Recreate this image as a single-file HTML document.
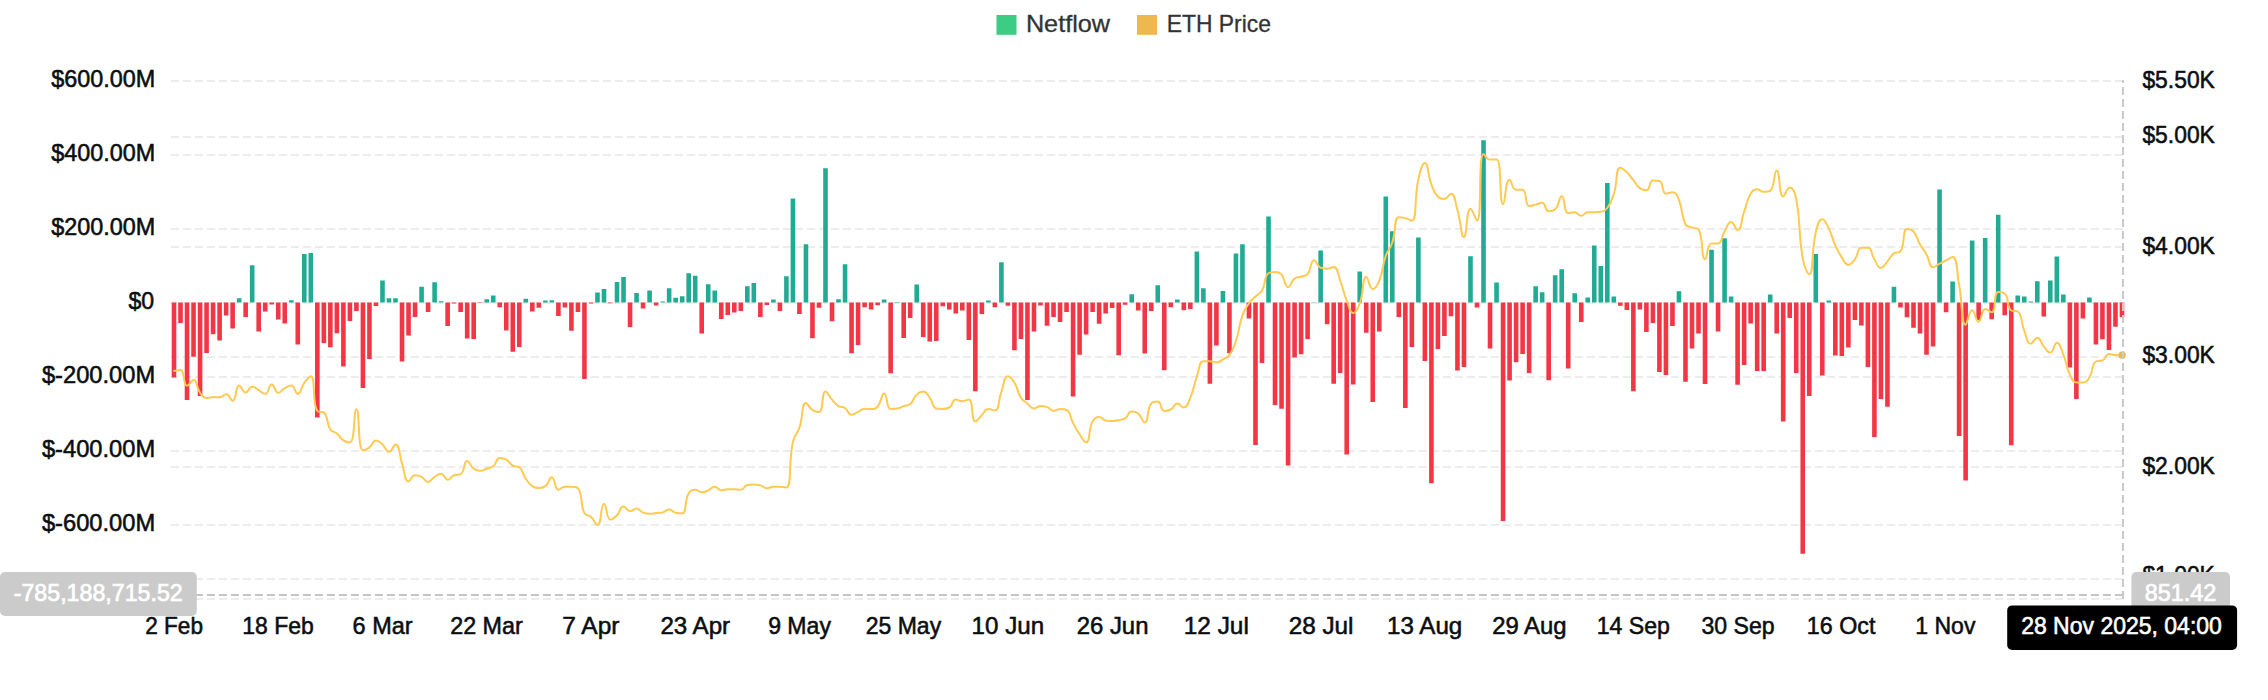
<!DOCTYPE html>
<html lang="en"><head><meta charset="utf-8"><title>Netflow / ETH Price</title>
<style>html,body{margin:0;padding:0;background:#fff}body{width:2268px;height:700px;overflow:hidden}</style></head>
<body>
<svg width="2268" height="700" viewBox="0 0 2268 700" style="display:block;font-family:'Liberation Sans', sans-serif">
<rect width="2268" height="700" fill="#fff"/>
<g stroke="#EDEDED" stroke-width="2" stroke-dasharray="8 4" fill="none">
<path d="M170.9 81H2123.6"/>
<path d="M170.9 155H2123.6"/>
<path d="M170.9 229H2123.6"/>
<path d="M170.9 303H2123.6"/>
<path d="M170.9 377H2123.6"/>
<path d="M170.9 451H2123.6"/>
<path d="M170.9 525H2123.6"/>
<path d="M170.9 599H2123.6"/>
<path d="M170.9 137H2123.6"/>
<path d="M170.9 247H2123.6"/>
<path d="M170.9 357H2123.6"/>
<path d="M170.9 467H2123.6"/>
<path d="M170.9 579H2123.6"/>
</g>
<path fill="#22AB94" d="M236.85 298.2h4.6V302.6h-4.6zM249.88 265.3h4.6V302.6h-4.6zM288.97 300.2h4.6V302.6h-4.6zM302 254.1h4.6V302.6h-4.6zM308.51 253h4.6V302.6h-4.6zM380.18 280.4h4.6V302.6h-4.6zM386.69 298.2h4.6V302.6h-4.6zM393.21 298.2h4.6V302.6h-4.6zM419.27 286.7h4.6V302.6h-4.6zM432.3 282.3h4.6V302.6h-4.6zM438.81 301.2h4.6V302.6h-4.6zM484.42 299.2h4.6V302.6h-4.6zM490.93 295.6h4.6V302.6h-4.6zM523.51 298.8h4.6V302.6h-4.6zM543.06 300.4h4.6V302.6h-4.6zM549.57 300.2h4.6V302.6h-4.6zM595.17 292.5h4.6V302.6h-4.6zM601.69 288.9h4.6V302.6h-4.6zM614.72 282h4.6V302.6h-4.6zM621.24 277h4.6V302.6h-4.6zM634.27 293.1h4.6V302.6h-4.6zM647.3 290.6h4.6V302.6h-4.6zM660.33 301.4h4.6V302.6h-4.6zM666.84 288.3h4.6V302.6h-4.6zM673.36 297.8h4.6V302.6h-4.6zM679.87 296.2h4.6V302.6h-4.6zM686.38 273.2h4.6V302.6h-4.6zM692.9 275.8h4.6V302.6h-4.6zM705.93 284.3h4.6V302.6h-4.6zM712.45 290.6h4.6V302.6h-4.6zM745.02 286.3h4.6V302.6h-4.6zM751.53 283.1h4.6V302.6h-4.6zM771.08 299.4h4.6V302.6h-4.6zM784.11 276.2h4.6V302.6h-4.6zM790.62 198.6h4.6V302.6h-4.6zM803.65 244.2h4.6V302.6h-4.6zM823.2 168.2h4.6V302.6h-4.6zM836.23 299.2h4.6V302.6h-4.6zM842.75 264.3h4.6V302.6h-4.6zM881.84 299.4h4.6V302.6h-4.6zM894.87 302h4.6V302.6h-4.6zM914.41 284.6h4.6V302.6h-4.6zM986.08 300.6h4.6V302.6h-4.6zM999.11 262.3h4.6V302.6h-4.6zM1129.4 294.3h4.6V302.6h-4.6zM1155.46 285.3h4.6V302.6h-4.6zM1175.01 299.4h4.6V302.6h-4.6zM1194.56 251.4h4.6V302.6h-4.6zM1201.07 288.3h4.6V302.6h-4.6zM1220.62 290.9h4.6V302.6h-4.6zM1233.64 253.4h4.6V302.6h-4.6zM1240.16 244.2h4.6V302.6h-4.6zM1266.22 216.4h4.6V302.6h-4.6zM1311.83 302.2h4.6V302.6h-4.6zM1318.34 250.4h4.6V302.6h-4.6zM1357.43 271.4h4.6V302.6h-4.6zM1383.49 196.4h4.6V302.6h-4.6zM1390 231.3h4.6V302.6h-4.6zM1416.07 237.6h4.6V302.6h-4.6zM1468.18 256.3h4.6V302.6h-4.6zM1481.21 140.3h4.6V302.6h-4.6zM1494.24 282.6h4.6V302.6h-4.6zM1533.34 286.3h4.6V302.6h-4.6zM1539.85 292.3h4.6V302.6h-4.6zM1552.88 275.2h4.6V302.6h-4.6zM1559.39 269.2h4.6V302.6h-4.6zM1572.42 293.3h4.6V302.6h-4.6zM1585.45 297.6h4.6V302.6h-4.6zM1591.97 245.6h4.6V302.6h-4.6zM1598.48 266.1h4.6V302.6h-4.6zM1605 183.1h4.6V302.6h-4.6zM1611.51 296.4h4.6V302.6h-4.6zM1676.66 291.3h4.6V302.6h-4.6zM1709.24 249.8h4.6V302.6h-4.6zM1722.27 238.3h4.6V302.6h-4.6zM1728.79 296.4h4.6V302.6h-4.6zM1767.88 294.5h4.6V302.6h-4.6zM1813.48 254.1h4.6V302.6h-4.6zM1826.51 300.6h4.6V302.6h-4.6zM1891.66 286.7h4.6V302.6h-4.6zM1937.26 189.6h4.6V302.6h-4.6zM1950.29 281.6h4.6V302.6h-4.6zM1969.84 240.4h4.6V302.6h-4.6zM1982.87 238.1h4.6V302.6h-4.6zM1995.9 214.8h4.6V302.6h-4.6zM2015.44 295.5h4.6V302.6h-4.6zM2021.96 296.6h4.6V302.6h-4.6zM2028.47 301.4h4.6V302.6h-4.6zM2034.99 281.2h4.6V302.6h-4.6zM2048.02 280.4h4.6V302.6h-4.6zM2054.53 256.6h4.6V302.6h-4.6zM2061.05 294.5h4.6V302.6h-4.6zM2087.11 297.6h4.6V302.6h-4.6z"/>
<path fill="#F23645" d="M171.7 302.6h4.6V377.6h-4.6zM178.21 302.6h4.6V323.1h-4.6zM184.73 302.6h4.6V399.9h-4.6zM191.24 302.6h4.6V356.8h-4.6zM197.76 302.6h4.6V395.9h-4.6zM204.27 302.6h4.6V353h-4.6zM210.79 302.6h4.6V334.2h-4.6zM217.3 302.6h4.6V340.6h-4.6zM223.82 302.6h4.6V315.6h-4.6zM230.33 302.6h4.6V328.6h-4.6zM243.36 302.6h4.6V317.1h-4.6zM256.39 302.6h4.6V331.6h-4.6zM262.91 302.6h4.6V311.6h-4.6zM269.43 302.6h4.6V304.6h-4.6zM275.94 302.6h4.6V319.6h-4.6zM282.45 302.6h4.6V323.6h-4.6zM295.48 302.6h4.6V344.6h-4.6zM315.03 302.6h4.6V417.6h-4.6zM321.55 302.6h4.6V343.1h-4.6zM328.06 302.6h4.6V347.3h-4.6zM334.57 302.6h4.6V333.2h-4.6zM341.09 302.6h4.6V366.6h-4.6zM347.6 302.6h4.6V321.1h-4.6zM354.12 302.6h4.6V311.1h-4.6zM360.63 302.6h4.6V388h-4.6zM367.15 302.6h4.6V359h-4.6zM373.67 302.6h4.6V306.1h-4.6zM399.72 302.6h4.6V361.6h-4.6zM406.24 302.6h4.6V335.4h-4.6zM412.75 302.6h4.6V316.9h-4.6zM425.78 302.6h4.6V311.9h-4.6zM445.33 302.6h4.6V326h-4.6zM451.84 302.6h4.6V303.6h-4.6zM458.36 302.6h4.6V311.9h-4.6zM464.88 302.6h4.6V338.6h-4.6zM471.39 302.6h4.6V339.1h-4.6zM477.9 302.6h4.6V303.1h-4.6zM497.45 302.6h4.6V307.2h-4.6zM503.96 302.6h4.6V330.4h-4.6zM510.48 302.6h4.6V351.8h-4.6zM517 302.6h4.6V346.9h-4.6zM530.03 302.6h4.6V311.6h-4.6zM536.54 302.6h4.6V307.8h-4.6zM556.09 302.6h4.6V316.1h-4.6zM562.6 302.6h4.6V307.4h-4.6zM569.12 302.6h4.6V330.8h-4.6zM575.63 302.6h4.6V311.9h-4.6zM582.14 302.6h4.6V379h-4.6zM588.66 302.6h4.6V303.6h-4.6zM608.21 302.6h4.6V303.3h-4.6zM627.75 302.6h4.6V327h-4.6zM640.78 302.6h4.6V308.6h-4.6zM653.81 302.6h4.6V305.6h-4.6zM699.41 302.6h4.6V333.4h-4.6zM718.96 302.6h4.6V319.1h-4.6zM725.48 302.6h4.6V315.1h-4.6zM731.99 302.6h4.6V312.6h-4.6zM738.5 302.6h4.6V311.1h-4.6zM758.05 302.6h4.6V316.9h-4.6zM764.57 302.6h4.6V305h-4.6zM777.6 302.6h4.6V310.9h-4.6zM797.14 302.6h4.6V314.1h-4.6zM810.17 302.6h4.6V338.3h-4.6zM816.69 302.6h4.6V307.8h-4.6zM829.72 302.6h4.6V321.3h-4.6zM849.26 302.6h4.6V353.2h-4.6zM855.77 302.6h4.6V345.1h-4.6zM862.29 302.6h4.6V307.2h-4.6zM868.81 302.6h4.6V309.6h-4.6zM875.32 302.6h4.6V305.2h-4.6zM888.35 302.6h4.6V373.3h-4.6zM901.38 302.6h4.6V337.9h-4.6zM907.89 302.6h4.6V318.1h-4.6zM920.92 302.6h4.6V337.1h-4.6zM927.44 302.6h4.6V341.6h-4.6zM933.96 302.6h4.6V341.1h-4.6zM940.47 302.6h4.6V306.2h-4.6zM946.99 302.6h4.6V309.4h-4.6zM953.5 302.6h4.6V313.6h-4.6zM960.01 302.6h4.6V310.6h-4.6zM966.53 302.6h4.6V340.1h-4.6zM973.04 302.6h4.6V391.2h-4.6zM979.56 302.6h4.6V313.9h-4.6zM992.59 302.6h4.6V307.2h-4.6zM1005.62 302.6h4.6V305.8h-4.6zM1012.13 302.6h4.6V350.3h-4.6zM1018.65 302.6h4.6V339.1h-4.6zM1025.16 302.6h4.6V399.9h-4.6zM1031.68 302.6h4.6V331.6h-4.6zM1038.19 302.6h4.6V305.6h-4.6zM1044.71 302.6h4.6V325.8h-4.6zM1051.23 302.6h4.6V316.9h-4.6zM1057.74 302.6h4.6V322.1h-4.6zM1064.25 302.6h4.6V312.1h-4.6zM1070.77 302.6h4.6V396.6h-4.6zM1077.29 302.6h4.6V354.8h-4.6zM1083.8 302.6h4.6V334.6h-4.6zM1090.32 302.6h4.6V312.1h-4.6zM1096.83 302.6h4.6V323.8h-4.6zM1103.35 302.6h4.6V313.6h-4.6zM1109.86 302.6h4.6V308h-4.6zM1116.38 302.6h4.6V355.2h-4.6zM1122.89 302.6h4.6V304.8h-4.6zM1135.92 302.6h4.6V310.6h-4.6zM1142.43 302.6h4.6V353.6h-4.6zM1148.95 302.6h4.6V311.1h-4.6zM1161.98 302.6h4.6V370.3h-4.6zM1168.5 302.6h4.6V307.2h-4.6zM1181.52 302.6h4.6V310.3h-4.6zM1188.04 302.6h4.6V309h-4.6zM1207.59 302.6h4.6V383.8h-4.6zM1214.1 302.6h4.6V345.6h-4.6zM1227.13 302.6h4.6V353.2h-4.6zM1246.67 302.6h4.6V318.6h-4.6zM1253.19 302.6h4.6V445h-4.6zM1259.7 302.6h4.6V363h-4.6zM1272.73 302.6h4.6V405.1h-4.6zM1279.25 302.6h4.6V408.8h-4.6zM1285.77 302.6h4.6V465.6h-4.6zM1292.28 302.6h4.6V357.4h-4.6zM1298.8 302.6h4.6V354.2h-4.6zM1305.31 302.6h4.6V338.9h-4.6zM1324.86 302.6h4.6V324.2h-4.6zM1331.37 302.6h4.6V383.8h-4.6zM1337.88 302.6h4.6V373.1h-4.6zM1344.4 302.6h4.6V454.4h-4.6zM1350.91 302.6h4.6V384.6h-4.6zM1363.94 302.6h4.6V332.8h-4.6zM1370.46 302.6h4.6V402.1h-4.6zM1376.97 302.6h4.6V331.4h-4.6zM1396.52 302.6h4.6V317.1h-4.6zM1403.04 302.6h4.6V408h-4.6zM1409.55 302.6h4.6V346.9h-4.6zM1422.58 302.6h4.6V361h-4.6zM1429.1 302.6h4.6V483.2h-4.6zM1435.61 302.6h4.6V349.1h-4.6zM1442.12 302.6h4.6V336h-4.6zM1448.64 302.6h4.6V316.3h-4.6zM1455.15 302.6h4.6V370.6h-4.6zM1461.67 302.6h4.6V367.1h-4.6zM1474.7 302.6h4.6V307.6h-4.6zM1487.73 302.6h4.6V348.6h-4.6zM1500.76 302.6h4.6V521.1h-4.6zM1507.28 302.6h4.6V380.4h-4.6zM1513.79 302.6h4.6V362.2h-4.6zM1520.31 302.6h4.6V354h-4.6zM1526.82 302.6h4.6V372.9h-4.6zM1546.37 302.6h4.6V380.2h-4.6zM1565.91 302.6h4.6V368.6h-4.6zM1578.94 302.6h4.6V321.9h-4.6zM1618.03 302.6h4.6V305.8h-4.6zM1624.55 302.6h4.6V310.1h-4.6zM1631.06 302.6h4.6V391.2h-4.6zM1637.58 302.6h4.6V309.6h-4.6zM1644.09 302.6h4.6V332h-4.6zM1650.61 302.6h4.6V322.9h-4.6zM1657.12 302.6h4.6V372.1h-4.6zM1663.63 302.6h4.6V374.9h-4.6zM1670.15 302.6h4.6V326h-4.6zM1683.18 302.6h4.6V381.8h-4.6zM1689.69 302.6h4.6V348.6h-4.6zM1696.21 302.6h4.6V333.4h-4.6zM1702.72 302.6h4.6V384h-4.6zM1715.75 302.6h4.6V331.6h-4.6zM1735.3 302.6h4.6V384.8h-4.6zM1741.82 302.6h4.6V364.9h-4.6zM1748.33 302.6h4.6V323.6h-4.6zM1754.85 302.6h4.6V370.9h-4.6zM1761.36 302.6h4.6V370.9h-4.6zM1774.39 302.6h4.6V333.6h-4.6zM1780.9 302.6h4.6V421.6h-4.6zM1787.42 302.6h4.6V318.1h-4.6zM1793.93 302.6h4.6V372.9h-4.6zM1800.45 302.6h4.6V553.8h-4.6zM1806.96 302.6h4.6V395.9h-4.6zM1819.99 302.6h4.6V375.6h-4.6zM1833.02 302.6h4.6V355.4h-4.6zM1839.54 302.6h4.6V356h-4.6zM1846.06 302.6h4.6V347.5h-4.6zM1852.57 302.6h4.6V320.1h-4.6zM1859.09 302.6h4.6V325.4h-4.6zM1865.6 302.6h4.6V366.9h-4.6zM1872.12 302.6h4.6V436.9h-4.6zM1878.63 302.6h4.6V398.9h-4.6zM1885.14 302.6h4.6V406.8h-4.6zM1898.17 302.6h4.6V307.4h-4.6zM1904.69 302.6h4.6V317.3h-4.6zM1911.2 302.6h4.6V327.8h-4.6zM1917.72 302.6h4.6V333.6h-4.6zM1924.23 302.6h4.6V354.8h-4.6zM1930.75 302.6h4.6V346.6h-4.6zM1943.78 302.6h4.6V312.3h-4.6zM1956.81 302.6h4.6V436h-4.6zM1963.33 302.6h4.6V480.4h-4.6zM1976.36 302.6h4.6V320.1h-4.6zM1989.38 302.6h4.6V319.3h-4.6zM2002.41 302.6h4.6V315.3h-4.6zM2008.93 302.6h4.6V445.2h-4.6zM2041.5 302.6h4.6V316.6h-4.6zM2067.56 302.6h4.6V367.6h-4.6zM2074.08 302.6h4.6V399.1h-4.6zM2080.59 302.6h4.6V318.6h-4.6zM2093.62 302.6h4.6V344.6h-4.6zM2100.14 302.6h4.6V339.3h-4.6zM2106.65 302.6h4.6V349.9h-4.6zM2113.17 302.6h4.6V326.8h-4.6zM2119.68 302.6h4.6V317.3h-4.6z"/>
<path fill="none" stroke="#FECA52" stroke-width="2" stroke-linejoin="round" stroke-linecap="round" d="M174 370.9C174 370.9 178.71 369.9 180.51 369.9C185.22 369.9 182.72 385.8 187.03 385.8C189.23 385.8 191.08 379.9 193.54 379.9C197.6 379.9 195.94 387.04 200.06 392.8C202.45 396.14 202.92 398.1 206.57 398.1C209.44 398.1 209.81 397.1 213.09 397.1C216.33 397.1 216.51 397.3 219.6 397.3C223.03 397.3 223.26 394.2 226.12 394.2C229.77 394.2 230.31 400.7 232.63 400.7C236.83 400.7 235.01 385.4 239.15 385.4C241.53 385.4 242.23 392.4 245.66 392.4C248.75 392.4 248.67 386.8 252.18 386.8C255.18 386.8 255.46 388.46 258.69 390.2C261.97 391.96 262.62 393.8 265.21 393.8C269.13 393.8 268.35 384.6 271.73 384.6C274.86 384.6 274.54 392.8 278.24 392.8C281.06 392.8 281.31 390.16 284.75 388.2C287.82 386.46 288.66 385.4 291.27 385.4C295.18 385.4 294.83 393.8 297.78 393.8C301.34 393.8 300.51 387.89 304.3 382.8C307.03 379.14 309.47 376.3 310.81 376.3C315.99 376.3 311.84 403.74 317.33 411.2C318.36 412.6 322.09 411.2 323.85 412.6C328.61 416.41 325.78 422.15 330.36 429.5C332.29 432.6 333.97 431.07 336.88 433.5C340.48 436.52 339.6 437.81 343.39 440.4C346.11 442.26 348.81 442.4 349.9 442.4C355.33 442.4 353.5 409.2 356.42 409.2C360.01 409.2 357.37 450.3 362.94 450.3C363.89 450.3 366.67 449.51 369.45 447.4C373.18 444.56 372.34 440.4 375.97 440.4C378.86 440.4 379.62 441.92 382.48 444.4C386.14 447.57 385.74 451.7 389 451.7C392.25 451.7 393.37 444.4 395.51 444.4C399.88 444.4 398.71 453.87 402.02 463.3C405.23 472.42 404.1 481.5 408.54 481.5C410.62 481.5 411.31 475.2 415.05 475.2C417.83 475.2 418.65 475.3 421.57 476.8C425.17 478.65 424.83 481.9 428.08 481.9C431.34 481.9 431.11 478.97 434.6 476.8C437.63 474.92 438.19 473.8 441.12 473.8C444.7 473.8 444.2 479.7 447.63 479.7C450.72 479.7 450.59 476.4 454.14 475.2C457.1 474.2 458.65 475.2 460.66 474.2C465.17 471.95 463.32 460.9 467.18 460.9C469.84 460.9 469.78 465.83 473.69 468.8C476.29 470.78 476.95 470.8 480.2 470.8C483.46 470.8 483.51 469.93 486.72 468.8C490.02 467.63 490.63 468.38 493.23 466.2C497.15 462.93 495.78 457.9 499.75 457.9C502.29 457.9 503.43 458.03 506.26 459.7C509.95 461.88 509.09 463.5 512.78 465.6C515.6 467.2 517.1 465.6 519.29 467.2C523.62 470.35 522.08 473.29 525.81 478.7C528.59 482.74 528.47 483.32 532.33 486.1C534.99 488.02 535.58 488.1 538.84 488.1C542.1 488.1 542.87 488.1 545.36 486.1C549.38 482.86 549.01 477.2 551.87 477.2C555.53 477.2 554.06 489.7 558.38 489.7C560.57 489.7 561.5 486.8 564.9 486.8C568.01 486.8 568.2 486.8 571.41 486.8C574.71 486.8 576.59 486.8 577.93 488.3C583.1 494.07 579.39 502.15 584.44 513.2C585.91 516.4 588.27 514.34 590.96 516.8C594.78 520.29 595.39 525.1 597.47 525.1C601.9 525.1 600.31 503.7 603.99 503.7C606.83 503.7 606.04 519.7 610.5 519.7C612.55 519.7 614.26 517.97 617.02 515.2C620.78 511.42 619.79 506.6 623.53 506.6C626.3 506.6 626.58 511.2 630.05 511.2C633.1 511.2 633.45 508.6 636.57 508.6C639.96 508.6 639.59 511.22 643.08 512.6C646.1 513.8 646.32 513.8 649.6 513.8C652.84 513.8 652.85 513.35 656.11 513C659.36 512.65 659.5 513 662.62 512.4C666.01 511.75 665.92 509.6 669.14 509.6C672.44 509.6 672.23 512.13 675.65 512.8C678.74 513.4 680.63 513.4 682.17 513.4C687.14 513.4 683.86 502.04 688.68 493.3C690.37 490.24 691.85 489.8 695.2 489.8C698.36 489.8 698.42 492.3 701.71 492.3C704.93 492.3 705.11 491.62 708.23 490.3C711.62 488.87 711.48 486.8 714.75 486.8C717.99 486.8 717.83 490.2 721.26 490.2C724.34 490.2 724.5 489.2 727.77 489.2C731.01 489.2 731.04 489.2 734.29 489.2C737.55 489.2 737.89 489.8 740.8 489.8C744.41 489.8 743.72 485.74 747.32 485C750.23 484.4 750.59 484.4 753.83 484.4C757.1 484.4 757.21 484.48 760.35 485.4C763.73 486.38 763.51 488.2 766.87 488.2C770.02 488.2 770.09 486.8 773.38 486.8C776.6 486.8 776.64 486.8 779.89 486.8C783.16 486.8 785.6 487.4 786.41 487.4C792.11 487.4 788.08 464.24 792.92 442C794.59 434.34 796.94 435.07 799.44 427.6C803.46 415.57 801.22 403 805.95 403C807.73 403 808.67 407.37 812.47 410C815.18 411.87 817.41 412 818.99 412C823.93 412 821.1 391.6 825.5 391.6C827.62 391.6 828.57 395.77 832.01 399.6C835.09 403.02 834.79 403.66 838.53 406.1C841.3 407.91 842.29 406.28 845.04 408.1C848.8 410.58 847.87 414.7 851.56 414.7C854.38 414.7 854.86 413.38 858.07 411.9C861.37 410.38 861.16 408.7 864.59 408.7C867.67 408.7 867.96 409.1 871.11 409.1C874.48 409.1 875.49 409.03 877.62 406.5C882.01 401.28 881.11 393.6 884.13 393.6C887.62 393.6 885.97 408.9 890.65 408.9C892.49 408.9 894.01 408.9 897.16 408.5C900.52 408.07 900.39 407.21 903.68 406.1C906.91 405.01 907.77 406.1 910.19 404.1C914.29 400.72 912.69 398.45 916.71 394.6C919.21 392.2 920.31 391.6 923.22 391.6C926.82 391.6 927.06 394.13 929.74 397.6C933.58 402.58 931.95 407.72 936.25 408.5C938.47 408.9 939.55 408.9 942.77 408.9C946.06 408.9 946.72 408.9 949.28 407.5C953.23 405.35 951.86 399.6 955.8 399.6C958.38 399.6 959.06 401.2 962.31 401.2C965.57 401.2 967.35 399.6 968.83 399.6C973.86 399.6 970.69 421.4 975.34 421.4C977.2 421.4 978.59 418.24 981.86 415.1C985.11 411.99 984.64 408.9 988.38 408.9C991.16 408.9 993.25 410.5 994.89 410.5C999.77 410.5 997.85 400.93 1001.4 391.6C1004.36 383.83 1003.71 376.3 1007.92 376.3C1010.23 376.3 1012.09 378.87 1014.43 382.7C1018.61 389.52 1016.72 390.85 1020.95 397.6C1023.24 401.25 1024.1 400.68 1027.46 403.5C1030.61 406.13 1030.45 408.5 1033.98 408.5C1036.96 408.5 1037.15 406.1 1040.49 406.1C1043.66 406.1 1044 406.1 1047.01 406.9C1050.52 407.83 1050.08 410.9 1053.53 410.9C1056.6 410.9 1056.73 408.9 1060.04 408.9C1063.24 408.9 1064.53 408.9 1066.55 409.9C1071.05 412.12 1069.63 416.55 1073.07 423C1076.14 428.75 1075.95 428.91 1079.59 434.3C1082.46 438.56 1084.01 442.3 1086.1 442.3C1090.53 442.3 1087.82 430.71 1092.62 421.4C1094.34 418.06 1095.76 417 1099.13 417C1102.28 417 1102.2 419.73 1105.64 420.4C1108.71 421 1108.91 421 1112.16 421C1115.42 421 1115.47 420.84 1118.67 420.2C1121.98 419.54 1122.48 420.2 1125.19 418.4C1128.99 415.87 1127.91 411.5 1131.7 411.5C1134.43 411.5 1135.73 411.5 1138.22 413.5C1142.25 416.74 1142.42 422.4 1144.73 422.4C1148.93 422.4 1146.39 409.1 1151.25 403.5C1152.9 401.6 1155.33 401.6 1157.76 401.6C1161.84 401.6 1160.17 410.9 1164.28 410.9C1166.69 410.9 1168 410.9 1170.8 409.5C1174.51 407.64 1173.81 403.5 1177.31 403.5C1180.33 403.5 1181.27 407.5 1183.82 407.5C1187.79 407.5 1188.05 403.01 1190.34 397.6C1194.57 387.61 1193.17 386.99 1196.86 376.7C1199.69 368.79 1198.67 361.2 1203.37 361.2C1205.19 361.2 1206.65 361.2 1209.88 361.2C1213.17 361.2 1213.28 362.4 1216.4 362.4C1219.8 362.4 1219.81 361.11 1222.91 359.3C1226.32 357.31 1227.2 357.93 1229.43 354.8C1233.72 348.78 1233.56 348.21 1235.94 341C1240.07 328.51 1238.16 327.79 1242.46 315.4C1244.67 309.04 1245.15 309.04 1248.97 303.5C1251.67 299.59 1252.1 299.86 1255.49 296.5C1258.61 293.41 1259.91 294.34 1262 290.6C1266.42 282.74 1263.72 276.65 1268.52 273.3C1270.24 272.1 1271.87 272.1 1275.03 272.1C1278.39 272.1 1279.39 272.19 1281.55 274.7C1285.9 279.74 1284.37 287.2 1288.07 287.2C1290.89 287.2 1290.58 281.62 1294.58 278.6C1297.1 276.7 1297.89 277.81 1301.1 276.7C1304.41 275.56 1305.57 276.69 1307.61 274.1C1312.08 268.44 1310.17 260.2 1314.12 260.2C1316.68 260.2 1316.72 266.19 1320.64 267.7C1323.24 268.7 1323.93 268.7 1327.15 268.7C1330.44 268.7 1331.66 267.1 1333.67 267.1C1338.17 267.1 1337.47 273.63 1340.18 280.6C1343.98 290.33 1342.81 290.82 1346.7 300.5C1349.32 307.02 1349.63 313 1353.21 313C1356.14 313 1357.79 308.84 1359.73 303.5C1364.31 290.89 1361.9 277.1 1366.24 277.1C1368.41 277.1 1369.11 289 1372.76 289C1375.62 289 1377.37 285.47 1379.27 280.6C1383.88 268.87 1381.66 267.88 1385.79 255.8C1388.18 248.83 1389.95 249.48 1392.3 242.5C1396.46 230.18 1393.62 217.2 1398.82 217.2C1400.13 217.2 1402.18 217.25 1405.34 218.1C1408.7 219 1410.91 220.7 1411.85 220.7C1417.43 220.7 1413.78 199.68 1418.37 179.4C1420.29 170.88 1422.01 163.1 1424.88 163.1C1428.52 163.1 1427.39 174.06 1431.39 184.4C1433.9 190.86 1433.55 192.25 1437.91 196.7C1440.06 198.9 1441.48 198.9 1444.42 198.9C1448 198.9 1448.86 193.7 1450.94 193.7C1455.37 193.7 1454.9 201.73 1457.45 210.2C1461.42 223.38 1460.79 237 1463.97 237C1467.31 237 1466.05 208.8 1470.48 208.8C1472.56 208.8 1475.9 220.7 1477 220.7C1482.42 220.7 1477.74 154 1483.51 154C1484.26 154 1486.32 159.6 1490.03 159.6C1492.84 159.6 1495.72 159.6 1496.54 159.6C1502.24 159.6 1498.88 204.2 1503.06 204.2C1505.4 204.2 1505.15 179.8 1509.58 179.8C1511.67 179.8 1511.88 189.8 1516.09 189.8C1518.39 189.8 1520.83 189.8 1522.61 189.8C1527.35 189.8 1524.4 206 1529.12 206C1530.92 206 1532.41 205.42 1535.63 204.6C1538.92 203.77 1539.62 202.7 1542.15 202.7C1546.14 202.7 1544.68 211.2 1548.66 211.2C1551.2 211.2 1553.09 211.2 1555.18 209.2C1559.61 204.96 1558.8 196.3 1561.69 196.3C1565.32 196.3 1563.43 213.2 1568.21 213.2C1569.95 213.2 1571.67 212.2 1574.72 212.2C1578.18 212.2 1577.98 215.8 1581.24 215.8C1584.5 215.8 1584.28 212.2 1587.75 212.2C1590.8 212.2 1591.02 212.2 1594.27 212.2C1597.53 212.2 1597.76 212.2 1600.78 211.8C1604.28 211.34 1605.16 210.92 1607.3 208C1611.68 202.02 1611.45 201.31 1613.81 194C1617.96 181.16 1615.3 167.7 1620.33 167.7C1621.81 167.7 1623.99 169.56 1626.85 172.3C1630.51 175.81 1630.1 176.25 1633.36 180.2C1636.62 184.15 1635.98 185.08 1639.88 188.1C1642.49 190.13 1643.98 190.3 1646.39 190.3C1650.49 190.3 1648.72 180.6 1652.9 180.6C1655.24 180.6 1657.38 180.6 1659.42 181C1663.89 181.87 1661.49 193.7 1665.93 193.7C1668.01 193.7 1669.86 192.3 1672.45 192.3C1676.37 192.3 1677.1 195.42 1678.96 200C1683.62 211.42 1680.43 213.6 1685.48 224.3C1686.95 227.4 1688.62 226.25 1691.99 227.6C1695.13 228.85 1697.32 227.6 1698.51 229.5C1703.84 238.04 1700.86 259.3 1705.02 259.3C1707.37 259.3 1706.82 243.4 1711.54 243.4C1713.33 243.4 1715.94 243.4 1718.05 243.4C1722.46 243.4 1721.05 237.29 1724.57 231.5C1727.56 226.59 1727.66 222 1731.09 222C1734.18 222 1735.34 230.1 1737.6 230.1C1741.85 230.1 1740.82 220.89 1744.12 211.7C1747.33 202.74 1746.04 201.73 1750.63 193.8C1752.55 190.48 1753.68 189.2 1757.14 189.2C1760.19 189.2 1760.3 191.8 1763.66 191.8C1766.82 191.8 1768.63 191.8 1770.17 190.8C1775.15 187.58 1773.8 170.6 1776.69 170.6C1780.31 170.6 1778.6 196.4 1783.2 196.4C1785.11 196.4 1786.74 187.5 1789.72 187.5C1793.25 187.5 1795.07 192.47 1796.23 198.8C1801.58 227.87 1797.69 229.01 1802.75 258.3C1804.2 266.71 1807.38 274.2 1809.26 274.2C1813.9 274.2 1810.96 252.86 1815.78 232.5C1817.47 225.36 1818.62 219.2 1822.29 219.2C1825.13 219.2 1826.28 223.51 1828.81 228.6C1832.8 236.61 1831.62 237.21 1835.32 245.4C1838.13 251.61 1838.07 251.76 1841.84 257.4C1844.58 261.51 1844.86 264.9 1848.36 264.9C1851.38 264.9 1852.3 262.67 1854.87 259.3C1858.82 254.12 1857.02 247.8 1861.38 247.8C1863.54 247.8 1865.75 247.8 1867.9 247.8C1872.26 247.8 1870.83 253.77 1874.41 259.3C1877.34 263.82 1877.43 267.9 1880.93 267.9C1883.94 267.9 1884.35 264.75 1887.44 261.3C1890.86 257.5 1890.05 256.37 1893.96 253.4C1896.56 251.42 1899 253.4 1900.47 251.4C1905.52 244.55 1901.98 229 1906.99 229C1908.49 229 1911.38 229 1913.5 231.5C1917.9 236.68 1916.45 238.13 1920.02 244.4C1922.97 249.58 1923.59 249.22 1926.53 254.4C1930.1 260.67 1928.75 267.3 1933.05 267.3C1935.26 267.3 1936.29 265.46 1939.56 263.7C1942.8 261.96 1942.81 261.98 1946.08 260.3C1949.33 258.63 1951.28 257 1952.59 257C1957.79 257 1956.4 270.89 1959.11 285C1962.91 304.79 1960.95 324.8 1965.62 324.8C1967.47 324.8 1968.58 310.3 1972.14 310.3C1975.1 310.3 1975.54 321.8 1978.65 321.8C1982.06 321.8 1980.85 308.9 1985.17 308.9C1987.37 308.9 1990.01 312.3 1991.68 312.3C1996.52 312.3 1993.24 292.1 1998.2 292.1C1999.76 292.1 2002.97 292.1 2004.71 293.5C2009.48 297.32 2006.45 307.74 2011.23 310.5C2012.96 311.5 2016.15 310.5 2017.74 311.5C2022.67 314.59 2020.45 321.38 2024.26 330.8C2026.96 337.48 2026.74 343.7 2030.77 343.7C2033.25 343.7 2034.39 337.7 2037.29 337.7C2040.9 337.7 2040.19 342.47 2043.8 346.6C2046.71 349.92 2047.53 352.6 2050.32 352.6C2054.05 352.6 2053.8 342.7 2056.84 342.7C2060.31 342.7 2060.78 348.35 2063.35 354.6C2067.3 364.2 2065.51 365.1 2069.86 374.4C2072.02 379 2072.39 382.4 2076.38 382.4C2078.9 382.4 2080.01 382.4 2082.89 382.4C2086.53 382.4 2087.3 380.78 2089.41 377.4C2093.82 370.33 2091.22 364.11 2095.93 361.5C2097.73 360.5 2099.72 361.5 2102.44 360.5C2106.24 359.1 2105.16 354 2108.95 354C2111.67 354 2112.19 354.8 2115.47 355C2118.71 355.2 2121.98 355.2 2121.98 355.2"/>
<path d="M170.9 595H2123.0" stroke="#C4C4C4" stroke-width="2" stroke-dasharray="8 4" fill="none"/>
<circle cx="2122.1" cy="355.2" r="3.6" fill="#E8B84B"/>
<path d="M2123.0 599V80" stroke="#CACACA" stroke-width="2" stroke-dasharray="8 4" fill="none"/>
<rect x="996.5" y="15" width="20" height="19.8" fill="#3DCC83"/>
<rect x="1137" y="15" width="20" height="19.8" fill="#EDB84F"/>
<text x="1025.9" y="32.3" font-size="24" fill="#333" stroke="#333" stroke-width="0.3" textLength="84.14" lengthAdjust="spacingAndGlyphs">Netflow</text>
<text x="1166.69" y="32.3" font-size="24" fill="#333" stroke="#333" stroke-width="0.3" textLength="104.25" lengthAdjust="spacingAndGlyphs">ETH Price</text>
<text x="51.2" y="87.4" font-size="24" fill="#0B0E11" stroke="#0B0E11" stroke-width="0.55" textLength="104.01" lengthAdjust="spacingAndGlyphs">$600.00M</text>
<text x="51.2" y="161.4" font-size="24" fill="#0B0E11" stroke="#0B0E11" stroke-width="0.55" textLength="104.01" lengthAdjust="spacingAndGlyphs">$400.00M</text>
<text x="51.2" y="235.4" font-size="24" fill="#0B0E11" stroke="#0B0E11" stroke-width="0.55" textLength="104.01" lengthAdjust="spacingAndGlyphs">$200.00M</text>
<text x="128.5" y="309.4" font-size="24" fill="#0B0E11" stroke="#0B0E11" stroke-width="0.55" textLength="25.68" lengthAdjust="spacingAndGlyphs">$0</text>
<text x="41.9" y="383.4" font-size="24" fill="#0B0E11" stroke="#0B0E11" stroke-width="0.55" textLength="113.33" lengthAdjust="spacingAndGlyphs">$-200.00M</text>
<text x="41.9" y="457.4" font-size="24" fill="#0B0E11" stroke="#0B0E11" stroke-width="0.55" textLength="113.33" lengthAdjust="spacingAndGlyphs">$-400.00M</text>
<text x="41.9" y="531.4" font-size="24" fill="#0B0E11" stroke="#0B0E11" stroke-width="0.55" textLength="113.33" lengthAdjust="spacingAndGlyphs">$-600.00M</text>
<text x="2142.4" y="87.5" font-size="24" fill="#0B0E11" stroke="#0B0E11" stroke-width="0.55" textLength="72.47" lengthAdjust="spacingAndGlyphs">$5.50K</text>
<text x="2142.4" y="142.9" font-size="24" fill="#0B0E11" stroke="#0B0E11" stroke-width="0.55" textLength="72.47" lengthAdjust="spacingAndGlyphs">$5.00K</text>
<text x="2142.4" y="253.6" font-size="24" fill="#0B0E11" stroke="#0B0E11" stroke-width="0.55" textLength="72.47" lengthAdjust="spacingAndGlyphs">$4.00K</text>
<text x="2142.4" y="362.8" font-size="24" fill="#0B0E11" stroke="#0B0E11" stroke-width="0.55" textLength="72.47" lengthAdjust="spacingAndGlyphs">$3.00K</text>
<text x="2142.4" y="473.5" font-size="24" fill="#0B0E11" stroke="#0B0E11" stroke-width="0.55" textLength="72.47" lengthAdjust="spacingAndGlyphs">$2.00K</text>
<text x="2142.4" y="583" font-size="24" fill="#0B0E11" stroke="#0B0E11" stroke-width="0.55" textLength="72.47" lengthAdjust="spacingAndGlyphs">$1.00K</text>
<text x="145.26" y="634" font-size="24" fill="#0B0E11" stroke="#0B0E11" stroke-width="0.55" textLength="57.69" lengthAdjust="spacingAndGlyphs">2 Feb</text>
<text x="242.22" y="634" font-size="24" fill="#0B0E11" stroke="#0B0E11" stroke-width="0.55" textLength="71.61" lengthAdjust="spacingAndGlyphs">18 Feb</text>
<text x="352.55" y="634" font-size="24" fill="#0B0E11" stroke="#0B0E11" stroke-width="0.55" textLength="60.03" lengthAdjust="spacingAndGlyphs">6 Mar</text>
<text x="450.15" y="634" font-size="24" fill="#0B0E11" stroke="#0B0E11" stroke-width="0.55" textLength="72.68" lengthAdjust="spacingAndGlyphs">22 Mar</text>
<text x="562.34" y="634" font-size="24" fill="#0B0E11" stroke="#0B0E11" stroke-width="0.55" textLength="57.07" lengthAdjust="spacingAndGlyphs">7 Apr</text>
<text x="660.45" y="634" font-size="24" fill="#0B0E11" stroke="#0B0E11" stroke-width="0.55" textLength="69.7" lengthAdjust="spacingAndGlyphs">23 Apr</text>
<text x="768.13" y="634" font-size="24" fill="#0B0E11" stroke="#0B0E11" stroke-width="0.55" textLength="62.81" lengthAdjust="spacingAndGlyphs">9 May</text>
<text x="865.77" y="634" font-size="24" fill="#0B0E11" stroke="#0B0E11" stroke-width="0.55" textLength="75.37" lengthAdjust="spacingAndGlyphs">25 May</text>
<text x="971.61" y="634" font-size="24" fill="#0B0E11" stroke="#0B0E11" stroke-width="0.55" textLength="72.48" lengthAdjust="spacingAndGlyphs">10 Jun</text>
<text x="1076.71" y="634" font-size="24" fill="#0B0E11" stroke="#0B0E11" stroke-width="0.55" textLength="71.75" lengthAdjust="spacingAndGlyphs">26 Jun</text>
<text x="1183.77" y="634" font-size="24" fill="#0B0E11" stroke="#0B0E11" stroke-width="0.55" textLength="65.1" lengthAdjust="spacingAndGlyphs">12 Jul</text>
<text x="1288.63" y="634" font-size="24" fill="#0B0E11" stroke="#0B0E11" stroke-width="0.55" textLength="64.87" lengthAdjust="spacingAndGlyphs">28 Jul</text>
<text x="1387.07" y="634" font-size="24" fill="#0B0E11" stroke="#0B0E11" stroke-width="0.55" textLength="75.17" lengthAdjust="spacingAndGlyphs">13 Aug</text>
<text x="1492.17" y="634" font-size="24" fill="#0B0E11" stroke="#0B0E11" stroke-width="0.55" textLength="74.44" lengthAdjust="spacingAndGlyphs">29 Aug</text>
<text x="1596.74" y="634" font-size="24" fill="#0B0E11" stroke="#0B0E11" stroke-width="0.55" textLength="73.16" lengthAdjust="spacingAndGlyphs">14 Sep</text>
<text x="1701.49" y="634" font-size="24" fill="#0B0E11" stroke="#0B0E11" stroke-width="0.55" textLength="73.1" lengthAdjust="spacingAndGlyphs">30 Sep</text>
<text x="1806.85" y="634" font-size="24" fill="#0B0E11" stroke="#0B0E11" stroke-width="0.55" textLength="68.55" lengthAdjust="spacingAndGlyphs">16 Oct</text>
<text x="1915.31" y="634" font-size="24" fill="#0B0E11" stroke="#0B0E11" stroke-width="0.55" textLength="60.13" lengthAdjust="spacingAndGlyphs">1 Nov</text>
<rect x="0" y="572" width="196.8" height="43.9" rx="5" fill="#CBCBCB"/>
<text x="13.73" y="601.1" font-size="24" fill="#fff" stroke="#fff" stroke-width="0.7" textLength="169.07" lengthAdjust="spacingAndGlyphs">-785,188,715.52</text>
<rect x="2131.4" y="572.1" width="98.6" height="44" rx="5" fill="#CBCBCB"/>
<text x="2144.72" y="600.8" font-size="24" fill="#fff" stroke="#fff" stroke-width="0.7" textLength="71.65" lengthAdjust="spacingAndGlyphs">851.42</text>
<rect x="2007.2" y="605.4" width="229.9" height="44.6" rx="5" fill="#000"/>
<text x="2021.14" y="634" font-size="24" fill="#fff" stroke="#fff" stroke-width="0.6" textLength="200.74" lengthAdjust="spacingAndGlyphs">28 Nov 2025, 04:00</text>
</svg>
</body></html>
